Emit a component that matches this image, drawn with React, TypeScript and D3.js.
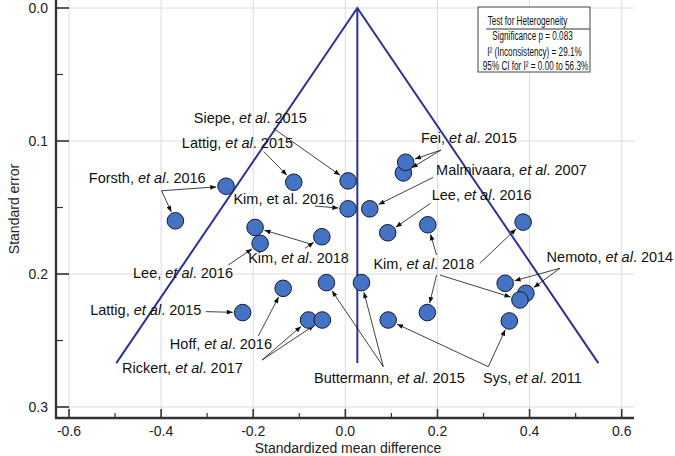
import React from "react";
import * as d3 from "d3";

// ---- Study points (standardized mean difference vs standard error) ----
const smd = [-0.259, -0.369, -0.112, 0.006, 0.006, -0.196, -0.185, -0.051, 0.126, 0.131, 0.053, 0.092, 0.179, 0.386,
  0.035, 0.093, 0.178, 0.347, 0.392, 0.379, 0.356, -0.135, -0.041, -0.223, -0.080, -0.050];
const stdErr = [0.134, 0.160, 0.131, 0.130, 0.151, 0.165, 0.177, 0.172, 0.124, 0.116, 0.151, 0.169, 0.163, 0.161,
  0.2065, 0.2346, 0.229, 0.207, 0.2145, 0.2195, 0.2353, 0.2108, 0.2065, 0.229, 0.2346, 0.2346];

const pooledEstimate = 0.026;
const funnelMaxSE = 0.267;

const xTicks = [-0.6, -0.4, -0.2, 0.0, 0.2, 0.4, 0.6];
const xMinorTicks = [-0.5, -0.3, -0.1, 0.1, 0.3, 0.5];
const yTicks = [0.0, 0.1, 0.2, 0.3];
const yMinorTicks = [0.05, 0.15, 0.25];

// ---- Study labels (anchored in data units) ----
const labelAuthors = ["Siepe", "Lattig", "Forsth", "Kim", "Fei", "Malmivaara", "Lee", "Kim", "Nemoto", "Kim", "Lee",
  "Lattig", "Hoff", "Rickert", "Buttermann", "Sys"];
const labelYears = ["2015", "2015", "2016", "2016", "2015", "2007", "2016", "2018", "2014", "2018", "2016", "2015",
  "2016", "2017", "2015", "2011"];
const labelItalic = [true, true, true, false, true, true, true, true, true, true, true, true, true, true, true, true];
const labelX = [-0.329, -0.355, -0.557, -0.243, 0.164, 0.197, 0.1875, 0.061, 0.437, -0.211, -0.461, -0.554, -0.381,
  -0.485, -0.068, 0.2988];
const labelY = [0.0827, 0.1013, 0.1276, 0.1436, 0.0975, 0.1218, 0.1406, 0.1927, 0.187, 0.1882, 0.1995, 0.2271, 0.2529,
  0.2707, 0.2782, 0.2782];

// ---- Arrows: origin (data units) -> study index ----
const arrowFromX = [-0.156, -0.177, -0.399, -0.399, -0.066, 0.2076, 0.2076, 0.191, 0.185, 0.198, 0.292, 0.198, 0.2055,
  0.466, 0.466, -0.0805, -0.0876, -0.254, -0.303, -0.189, -0.181, -0.181, 0.0824, 0.0824, 0.3103, 0.3103];
const arrowFromY = [0.0905, 0.108, 0.1374, 0.1374, 0.1489, 0.1068, 0.1068, 0.1273, 0.1468, 0.1857, 0.192, 0.2008, 0.2008,
  0.1957, 0.1957, 0.1769, 0.1807, 0.1932, 0.2283, 0.2466, 0.2647, 0.2647, 0.2697, 0.2697, 0.2697, 0.2697];
const arrowTarget = [3, 2, 0, 1, 4, 9, 8, 10, 11, 12, 13, 16, 19, 17, 18, 5, 7, 6, 23, 21, 24, 25, 14, 22, 15, 20];

// ---- Heterogeneity box ----
const hetTitle = "Test for Heterogeneity";
const hetLines = ["Significance p = 0.083", "I\u00B2 (Inconsistency) = 29.1%", "95% CI for I\u00B2 =  0.00 to 56.3%"];

const FONT = "'Liberation Sans', Arial, Helvetica, sans-serif";

export default function App() {
  const W = 675;
  const H = 456;
  const x = d3.scaleLinear().domain([-0.6, 0.6]).range([69, 621.7]);
  const y = d3.scaleLinear().domain([0, 0.3]).range([8, 407]);

  const axisLeft = 56;
  const axisRight = 634;
  const axisTop = 0;
  const axisBottom = 418;
  const r = 8.3;

  const funnel = d3.line<[number, number]>().x((d) => x(d[0])).y((d) => y(d[1]));
  const funnelPts: [number, number][] = [
    [pooledEstimate - 1.96 * funnelMaxSE, funnelMaxSE],
    [pooledEstimate, 0],
    [pooledEstimate + 1.96 * funnelMaxSE, funnelMaxSE],
  ];

  const navy = "#2e3192";
  const axisColor = "#333";

  return (
    <svg width={W} height={H} style={{ position: "absolute", left: 0, top: 0, background: "#fff" }} fontFamily={FONT}>
      <defs>
        <marker id="ah" viewBox="0 0 10 10" refX="10" refY="5" markerWidth="7" markerHeight="6"
          markerUnits="userSpaceOnUse" orient="auto">
          <path d="M0,1 L10,5 L0,9 z" fill="#111" />
        </marker>
      </defs>
      <rect x={0} y={0} width={W} height={H} fill="#fff" />

      {/* grid */}
      {xTicks.map((t) => (
        <line key={"gx" + t} x1={x(t)} x2={x(t)} y1={axisTop} y2={axisBottom} stroke="#dcdcdc" strokeWidth={1} />
      ))}
      {yTicks.map((t) => (
        <line key={"gy" + t} x1={axisLeft} x2={axisRight} y1={y(t)} y2={y(t)} stroke="#dcdcdc" strokeWidth={1} />
      ))}

      {/* heterogeneity box */}
      <rect x={478} y={7} width={112} height={65} fill="#fff" stroke="#444" strokeWidth={1} />
      <line x1={486} x2={590} y1={29} y2={29} stroke="#333" strokeWidth={1.2} />
      <g transform="translate(527.5,25) scale(0.68,1)">
        <text x={0} y={0} textAnchor="middle" fontSize={12} fill="#111">{hetTitle}</text>
      </g>
      {hetLines.map((s, i) => (
        <g key={"h" + i} transform={`translate(${[532.5, 534.5, 535.5][i]},${[40, 55.5, 70][i]}) scale(0.68,1)`}>
          <text x={0} y={0} textAnchor="middle" fontSize={12} fill="#111">{s}</text>
        </g>
      ))}

      {/* funnel */}
      <path d={funnel(funnelPts) || ""} fill="none" stroke={navy} strokeWidth={2} />
      <line x1={x(pooledEstimate)} x2={x(pooledEstimate)} y1={y(0)} y2={y(funnelMaxSE)} stroke={navy} strokeWidth={2} />

      {/* arrows */}
      {arrowTarget.map((ti, i) => {
        const x0 = x(arrowFromX[i]);
        const y0 = y(arrowFromY[i]);
        const cx = x(smd[ti]);
        const cy = y(stdErr[ti]);
        const dx = cx - x0;
        const dy = cy - y0;
        const len = Math.sqrt(dx * dx + dy * dy);
        const k = (len - (r + 1.5)) / len;
        return (
          <line key={"a" + i} x1={x0} y1={y0} x2={x0 + dx * k} y2={y0 + dy * k} stroke="#111" strokeWidth={0.8}
            markerEnd="url(#ah)" />
        );
      })}

      {/* points */}
      {smd.map((v, i) => (
        <circle key={"p" + i} cx={x(v)} cy={y(stdErr[i])} r={r} fill="#4472c4" stroke="#1a1a2a" strokeWidth={1} />
      ))}

      {/* labels */}
      {labelAuthors.map((a, i) => (
        <text key={"l" + i} x={x(labelX[i])} y={y(labelY[i])} dy="0.35em" fontSize={14.5} fill="#111">
          {a + ", "}
          {labelItalic[i] ? <tspan fontStyle="italic">et al</tspan> : "et al"}
          {". " + labelYears[i]}
        </text>
      ))}

      {/* axes */}
      <line x1={axisLeft} x2={axisLeft} y1={axisTop} y2={axisBottom + 1} stroke={axisColor} strokeWidth={2.3} />
      <line x1={axisLeft - 1} x2={axisRight} y1={axisBottom} y2={axisBottom} stroke={axisColor} strokeWidth={2.3} />
      {yTicks.map((t) => (
        <g key={"yt" + t}>
          <line x1={axisLeft} x2={axisLeft + 13} y1={y(t)} y2={y(t)} stroke={axisColor} strokeWidth={1.6} />
          <text x={48} y={y(t)} dy="0.35em" textAnchor="end" fontSize={14} fill="#222">{t.toFixed(1)}</text>
        </g>
      ))}
      {yMinorTicks.map((t) => (
        <line key={"ym" + t} x1={axisLeft} x2={axisLeft + 7} y1={y(t)} y2={y(t)} stroke={axisColor} strokeWidth={1.2} />
      ))}
      {xTicks.map((t) => (
        <g key={"xt" + t}>
          <line x1={x(t)} x2={x(t)} y1={axisBottom} y2={axisBottom - 9} stroke={axisColor} strokeWidth={1.6} />
          <text x={x(t)} y={436} textAnchor="middle" fontSize={14} fill="#222">{t.toFixed(1)}</text>
        </g>
      ))}
      {xMinorTicks.map((t) => (
        <line key={"xm" + t} x1={x(t)} x2={x(t)} y1={axisBottom} y2={axisBottom - 5} stroke={axisColor} strokeWidth={1.2} />
      ))}
      <text x={348} y={453} textAnchor="middle" fontSize={14} fill="#222">Standardized mean difference</text>
      <text transform={`translate(19,${(axisTop + axisBottom) / 2}) rotate(-90)`} textAnchor="middle" fontSize={14}
        fill="#222">Standard error</text>
    </svg>
  );
}
